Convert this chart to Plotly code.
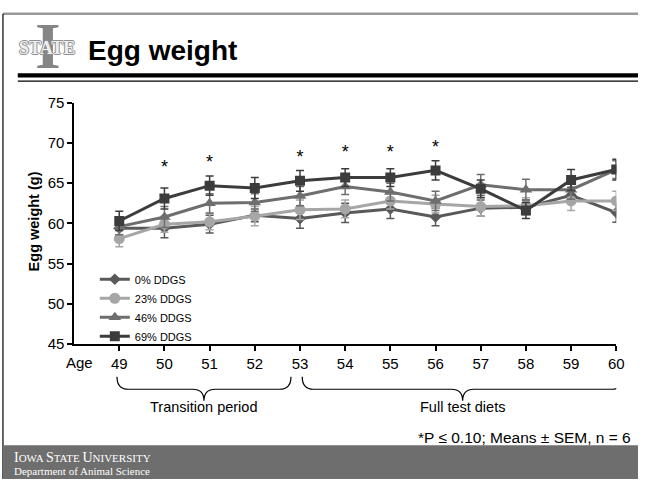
import plotly.graph_objects as go

W, H = 646, 487

ages = [49, 50, 51, 52, 53, 54, 55, 56, 57, 58, 59, 60]
tick_labels = [str(a) for a in ages]

ddgs0 = [59.4, 59.4, 59.9, 61.0, 60.6, 61.3, 61.8, 60.8, 61.9, 62.0, 63.5, 61.35]
ddgs0_sem = [0.8, 1.2, 1.1, 0.8, 1.2, 1.2, 1.2, 1.1, 1.0, 0.9, 1.0, 1.2]
ddgs23 = [58.1, 59.9, 60.2, 60.9, 61.7, 61.8, 62.8, 62.4, 62.1, 62.2, 62.8, 62.8]
ddgs23_sem = [1.0, 1.0, 1.0, 1.2, 1.2, 1.1, 1.0, 1.1, 1.2, 1.0, 1.2, 1.2]
ddgs46 = [59.6, 60.8, 62.5, 62.6, 63.4, 64.6, 63.9, 62.8, 64.8, 64.2, 64.2, 66.7]
ddgs46_sem = [1.0, 1.3, 1.2, 1.1, 1.2, 1.0, 1.1, 1.2, 1.3, 1.3, 1.2, 1.1]
ddgs69 = [60.3, 63.1, 64.7, 64.4, 65.3, 65.7, 65.7, 66.6, 64.3, 61.6, 65.4, 66.7]
ddgs69_sem = [1.2, 1.3, 1.2, 1.3, 1.3, 1.1, 1.1, 1.2, 1.1, 1.0, 1.3, 1.3]

sig_ages = [50, 51, 53, 54, 55, 56]
sig_y = [66.8, 67.4, 68.1, 68.7, 68.7, 69.3]

series = [
    ("0% DDGS", ddgs0, ddgs0_sem, "#595959", "diamond", 9),
    ("23% DDGS", ddgs23, ddgs23_sem, "#a6a6a6", "circle", 11),
    ("46% DDGS", ddgs46, ddgs46_sem, "#6e6e6e", "triangle-up", 11),
    ("69% DDGS", ddgs69, ddgs69_sem, "#3c3c3c", "square", 10),
]

def px(x):
    return x / W

def py(y):
    return 1 - y / H

fig = go.Figure()
for name, vals, sem, col, sym, sz in series:
    fig.add_trace(go.Scatter(
        x=ages, y=vals, name=name, mode="lines+markers",
        line=dict(color=col, width=3),
        marker=dict(symbol=sym, size=sz, color=col),
        error_y=dict(type="data", array=sem, visible=True, color=col, thickness=1.5, width=4),
    ))

fig.add_trace(go.Scatter(
    x=sig_ages, y=sig_y, mode="text", text=["*"] * len(sig_ages),
    textfont=dict(family="Liberation Sans", size=18, color="#000"),
    showlegend=False, hoverinfo="skip",
))

font = "Liberation Sans"
fig.update_layout(
    width=W, height=H, autosize=False,
    margin=dict(l=0, r=0, t=0, b=0),
    paper_bgcolor="white", plot_bgcolor="white",
    showlegend=True,
    legend=dict(x=px(96), y=py(265), xanchor="left", yanchor="top",
                font=dict(family=font, size=11, color="#000"),
                bgcolor="rgba(0,0,0,0)", tracegroupgap=0),
    xaxis=dict(domain=[px(75), px(624)], range=[48, 60], tickmode="array",
               tickvals=ages, ticktext=tick_labels, showline=True, linecolor="#000",
               linewidth=1.5, ticks="outside", ticklen=5, tickcolor="#000", tickwidth=1.5,
               showgrid=False, zeroline=False,
               tickfont=dict(family=font, size=15, color="#000")),
    yaxis=dict(domain=[py(347), py(97.3)], range=[45, 75], dtick=5, tick0=45,
               showline=True, linecolor="#000", linewidth=1.5, ticks="outside",
               ticklen=5, tickcolor="#000", tickwidth=1.5, showgrid=False, zeroline=False,
               tickfont=dict(family=font, size=15, color="#000")),
)

shapes = []
# slide frame
shapes.append(dict(type="line", xref="paper", yref="paper", x0=px(3), x1=1, y0=py(5), y1=py(5),
                   line=dict(color="#999999", width=2.5)))
shapes.append(dict(type="line", xref="paper", yref="paper", x0=px(3), x1=px(3), y0=0, y1=py(5),
                   line=dict(color="#000", width=1.2)))
# header double line
shapes.append(dict(type="rect", xref="paper", yref="paper", x0=px(18), x1=1, y0=py(71), y1=py(66.7),
                   line=dict(width=0), fillcolor="#000"))
shapes.append(dict(type="rect", xref="paper", yref="paper", x0=px(18), x1=1, y0=py(75.5), y1=py(74),
                   line=dict(width=0), fillcolor="#000"))
# footer band
shapes.append(dict(type="rect", xref="paper", yref="paper", x0=px(3), x1=1, y0=0, y1=py(452),
                   line=dict(width=0), fillcolor="#6e6e6e"))


def brace(x0, x1, ytop, ymid, ytip, d=0.25):
    xm = (x0 + x1) / 2
    a, b, c = py(ytop), py(ymid), py(ytip)
    return (f"M {x0},{a} Q {x0},{b} {x0 + d},{b} L {xm - d},{b} Q {xm},{b} {xm},{c} "
            f"Q {xm},{b} {xm + d},{b} L {x1 - d},{b} Q {x1},{b} {x1},{a}")

shapes.append(dict(type="path", xref="x", yref="paper", path=brace(48.95, 52.8, 381, 394, 406),
                   line=dict(color="#000", width=1.2)))
shapes.append(dict(type="path", xref="x", yref="paper", path=brace(53.05, 60.15, 381, 394, 406),
                   line=dict(color="#000", width=1.2)))
fig.update_layout(shapes=shapes)

ann = []
ann.append(dict(text="<b>Egg weight (g)</b>", x=px(34.5), y=py(220), xref="paper", yref="paper",
                textangle=-90, showarrow=False, font=dict(family=font, size=14.5, color="#000"),
                xanchor="center", yanchor="middle"))
ann.append(dict(text="Age", x=px(65), y=py(366), xref="paper", yref="paper", showarrow=False,
                xanchor="left", yanchor="middle", font=dict(family=font, size=15, color="#000")))
ann.append(dict(text="Transition period", x=50.875, y=py(412), xref="x", yref="paper",
                showarrow=False, xanchor="center", yanchor="middle",
                font=dict(family=font, size=14.5, color="#000")))
ann.append(dict(text="Full test diets", x=56.6, y=py(412), xref="x", yref="paper",
                showarrow=False, xanchor="center", yanchor="middle",
                font=dict(family=font, size=14.5, color="#000")))
ann.append(dict(text="*P ≤ 0.10; Means ± SEM, n = 6", x=px(641), y=py(444), xref="paper",
                yref="paper", showarrow=False, xanchor="right", yanchor="middle",
                font=dict(family=font, size=15.5, color="#000")))
ann.append(dict(text="<b>Egg weight</b>", x=px(87), y=py(43), xref="paper", yref="paper",
                showarrow=False, xanchor="left", yanchor="middle",
                font=dict(family=font, size=28, color="#000")))
# logo
ann.append(dict(text="<b>I</b>", x=px(49), y=py(38), xref="paper", yref="paper", showarrow=False,
                xanchor="center", yanchor="middle",
                font=dict(family="Liberation Serif", size=66, color="#858585")))
ann.append(dict(text="<b>STATE</b>", x=px(48), y=py(40), xref="paper", yref="paper",
                showarrow=False, xanchor="center", yanchor="middle",
                font=dict(family="Liberation Serif", size=18, color="#eeeeee",
                          shadow="1px 0 0 #909090, -1px 0 0 #909090, 0 1px 0 #909090, 0 -1px 0 #909090")))
# footer text
ann.append(dict(text="<span style='font-size:14px'>I</span>OWA <span style='font-size:14px'>S</span>TATE "
                     "<span style='font-size:14px'>U</span>NIVERSITY",
                x=px(12), y=py(465), xref="paper", yref="paper", showarrow=False,
                xanchor="left", yanchor="middle",
                font=dict(family="Liberation Serif", size=11, color="#ffffff")))
ann.append(dict(text="Department of Animal Science", x=px(12), y=py(479), xref="paper",
                yref="paper", showarrow=False, xanchor="left", yanchor="middle",
                font=dict(family="Liberation Serif", size=11, color="#ffffff")))
fig.update_layout(annotations=ann)

fig.write_html("out.html", config={"displayModeBar": False},
               post_script="document.documentElement.style.overflow='hidden';"
                           "document.body.style.margin='0';document.body.style.overflow='hidden';")
